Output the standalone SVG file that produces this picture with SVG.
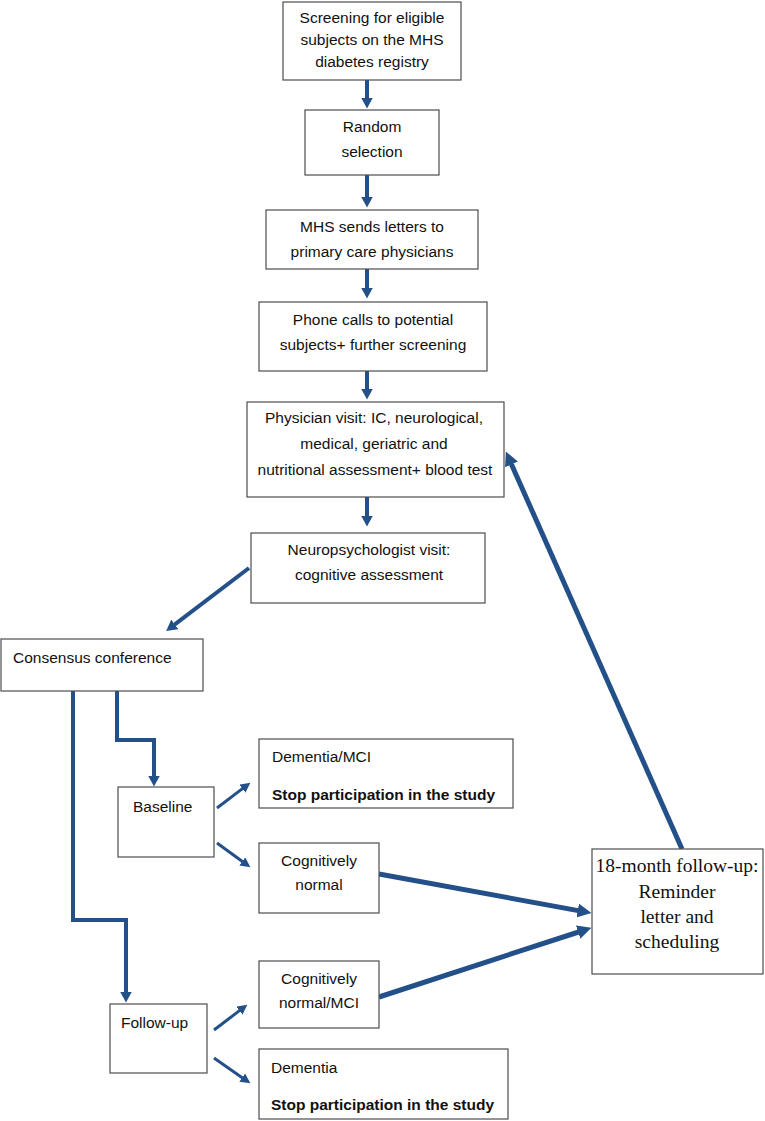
<svg xmlns="http://www.w3.org/2000/svg" width="765" height="1121" viewBox="0 0 765 1121">
<style>
.box{fill:#fff;stroke:#4d4d4d;stroke-width:1.2}
.t{font-family:"Liberation Sans",Arial,sans-serif;font-size:15.5px;fill:#111}
.c{text-anchor:middle}
.b{font-weight:bold}
.tr{font-family:"Liberation Serif","Times New Roman",serif;font-size:19.5px;fill:#111;text-anchor:middle}
.a{fill:none;stroke:#24508a;stroke-linejoin:miter}
.m{stroke-width:4}
.s{stroke-width:3}
.l{stroke-width:5}
</style>
<defs>
<marker id="hm" markerUnits="userSpaceOnUse" markerWidth="11" markerHeight="12" viewBox="0 0 11 12" refX="0.5" refY="6" orient="auto"><path d="M0,0 L11,6 L0,12 z" fill="#24508a"/></marker>
<marker id="hs" markerUnits="userSpaceOnUse" markerWidth="10" markerHeight="10" viewBox="0 0 10 10" refX="0.5" refY="5" orient="auto"><path d="M0,0 L10,5 L0,10 z" fill="#24508a"/></marker>
<marker id="hl" markerUnits="userSpaceOnUse" markerWidth="14" markerHeight="14" viewBox="0 0 14 14" refX="0.5" refY="7" orient="auto"><path d="M0,0 L14,7 L0,14 z" fill="#24508a"/></marker>
</defs>
<g id="connectors">
<path class="a m" d="M367,80 V98" marker-end="url(#hm)"/>
<path class="a m" d="M367,175 V197" marker-end="url(#hm)"/>
<path class="a m" d="M367,269 V288" marker-end="url(#hm)"/>
<path class="a m" d="M367,371 V389" marker-end="url(#hm)"/>
<path class="a m" d="M367,497 V516" marker-end="url(#hm)"/>
<path class="a m" d="M249,568 L174.5,624.7" marker-end="url(#hm)"/>
<path class="a m" d="M117,691 V740 H154 V776" marker-end="url(#hm)"/>
<path class="a m" d="M73,691 V920 H126 V992" marker-end="url(#hm)"/>
<path class="a s" d="M217,808 L242.8,788.4" marker-end="url(#hs)"/>
<path class="a s" d="M217,843 L242.7,861.7" marker-end="url(#hs)"/>
<path class="a s" d="M214,1030 L239.8,1010.4" marker-end="url(#hs)"/>
<path class="a s" d="M214,1058 L242.6,1077.9" marker-end="url(#hs)"/>
<path class="a l" d="M379,874 L578.2,910.6" marker-end="url(#hl)"/>
<path class="a l" d="M379,997 L578.6,932" marker-end="url(#hl)"/>
<path class="a l" d="M682,849 L511.3,463.9" marker-end="url(#hl)"/>
</g>
<g id="n1"><rect class="box" x="283" y="2" width="178" height="78"/>
<text class="t c" x="372" y="23">Screening for eligible</text>
<text class="t c" x="372" y="45">subjects on the MHS</text>
<text class="t c" x="372" y="67">diabetes registry</text></g>
<g id="n2"><rect class="box" x="305" y="110" width="134" height="65"/>
<text class="t c" x="372" y="132">Random</text>
<text class="t c" x="372" y="157">selection</text></g>
<g id="n3"><rect class="box" x="266" y="210" width="212" height="59"/>
<text class="t c" x="372" y="232">MHS sends letters to</text>
<text class="t c" x="372" y="257">primary care physicians</text></g>
<g id="n4"><rect class="box" x="259" y="302" width="228" height="69"/>
<text class="t c" x="373" y="325">Phone calls to potential</text>
<text class="t c" x="373" y="350">subjects+ further screening</text></g>
<g id="n5"><rect class="box" x="247" y="402" width="257" height="95"/>
<text class="t c" x="374" y="423">Physician visit: IC, neurological,</text>
<text class="t c" x="374" y="449">medical, geriatric and</text>
<text class="t c" x="375" y="475">nutritional assessment+ blood test</text></g>
<g id="n6"><rect class="box" x="251" y="533" width="234" height="70"/>
<text class="t c" x="369" y="555">Neuropsychologist visit:</text>
<text class="t c" x="369" y="580">cognitive assessment</text></g>
<g id="n7"><rect class="box" x="1" y="639" width="202" height="52"/>
<text class="t" x="13" y="663">Consensus conference</text></g>
<g id="n8"><rect class="box" x="118" y="787" width="96" height="70"/>
<text class="t" x="133" y="812">Baseline</text></g>
<g id="n9"><rect class="box" x="259" y="739" width="254" height="69"/>
<text class="t" x="272" y="762">Dementia/MCI</text>
<text class="t b" x="272" y="800">Stop participation in the study</text></g>
<g id="n10"><rect class="box" x="259" y="843" width="120" height="70"/>
<text class="t c" x="319" y="866">Cognitively</text>
<text class="t c" x="319" y="890">normal</text></g>
<g id="n11"><rect class="box" x="110" y="1004" width="97" height="69"/>
<text class="t" x="121" y="1028">Follow-up</text></g>
<g id="n12"><rect class="box" x="259" y="961" width="120" height="67"/>
<text class="t c" x="319" y="984">Cognitively</text>
<text class="t c" x="319" y="1008">normal/MCI</text></g>
<g id="n13"><rect class="box" x="259" y="1049" width="249" height="70"/>
<text class="t" x="271" y="1073">Dementia</text>
<text class="t b" x="271" y="1110">Stop participation in the study</text></g>
<g id="n14"><rect class="box" x="592" y="849" width="171" height="125"/>
<text class="tr" x="677" y="872">18-month follow-up:</text>
<text class="tr" x="677" y="898">Reminder</text>
<text class="tr" x="677" y="923">letter and</text>
<text class="tr" x="677" y="948">scheduling</text></g>
</svg>
